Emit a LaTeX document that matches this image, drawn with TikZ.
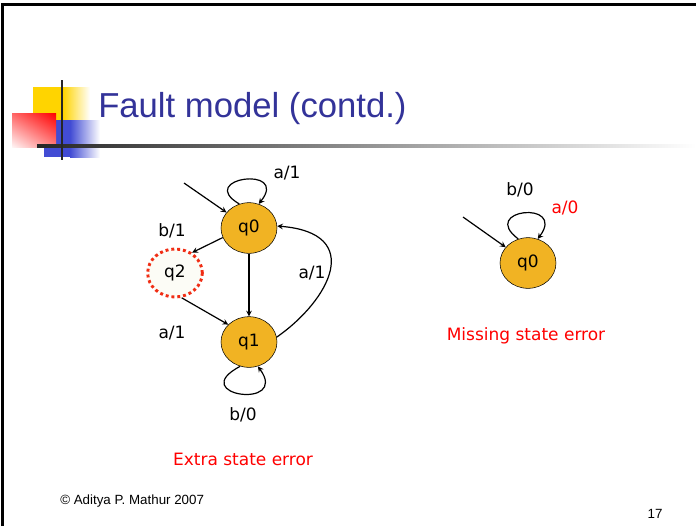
\documentclass[tikz,border=0pt]{standalone}
\usepackage{fontspec}
\setmainfont{DejaVu Sans}
\newfontfamily\arialfont{Liberation Sans}
\usetikzlibrary{shapes,arrows,positioning,calc,shadings}

\definecolor{titleblue}{RGB}{51,51,153}
\definecolor{stategold}{RGB}{241,179,35}
\definecolor{ghostfill}{RGB}{252,252,246}
\definecolor{dotred}{RGB}{240,45,20}
\definecolor{barblue}{RGB}{66,76,212}
\definecolor{baryellow}{RGB}{255,212,0}

\newcommand\labelfont{\fontsize{12.75pt}{15pt}\selectfont}

\begin{document}
\begin{tikzpicture}[
    x=0.75pt, y=-0.75pt,
    state/.style={ellipse, draw=black, fill=stategold, minimum width=42pt, minimum height=38pt, inner sep=0pt, font=\labelfont},
    ghost/.style={ellipse, draw=dotred, fill=ghostfill, line width=2.2pt, dash pattern=on 2.2pt off 2.2pt, minimum width=41pt, minimum height=36pt, inner sep=0pt, font=\labelfont},
    trans/.style={->, >=stealth, line width=0.9pt},
    lbl/.style={inner sep=0pt, font=\labelfont},
    errtext/.style={inner sep=0pt, font=\labelfont, text=red}
]
    \useasboundingbox (0,0) rectangle (696,526);

    % slide frame
    \draw[line width=1.6pt] (2.5,526) -- (2.5,4.5) -- (696,4.5);

    % title decoration
    \fill[baryellow] (33,87) rectangle (63,120);
    \shade[left color=baryellow, right color=white] (63,87) rectangle (90,120);
    \fill[barblue] (44,120) rectangle (70,157);
    \shade[left color=barblue, right color=white] (70,120) rectangle (100,157);
    \shade[upper right=red, upper left=red!60!white, lower right=red!50!white, lower left=red!4!white] (12,113) rectangle (56,147);
    \shade[left color=black!85, right color=white] (37,144.5) rectangle (696,147.5);
    \fill[black!85] (60.5,80) rectangle (63,160);

    \node[anchor=base west, inner sep=0pt, text=titleblue, font=\arialfont\fontsize{26pt}{30pt}\selectfont] (title) at (98,117) {Fault model (contd.)};

    % extra state machine
    \node[state] (q0) at (249,228) {q0};
    \node[state] (q1) at (249,342) {q1};
    \node[ghost] (q2) at (175,273) {q2};
    \coordinate (start) at (184,183);

    \draw[trans] (start) -- (q0);
    \draw[trans] (q0.112) .. controls +(-44,-26) and +(31,-39) .. (q0.68);
    \draw[trans] (q0.200) -- (q2.50);
    \draw[trans] (q2.285) -- (q1.140);
    \draw[trans] (q0) -- (q1);
    \draw[trans] (q1.10) .. controls +(53,-37) and +(88,7) .. (q0.4);
    \draw[trans] (q1.250) .. controls +(-55,29) and +(32,44) .. (q1.290);

    \node[lbl] (la) at (287,173) {a/1};
    \node[lbl] (lb) at (172,231) {b/1};
    \node[lbl] (lc) at (312,273) {a/1};
    \node[lbl] (ld) at (172,333) {a/1};
    \node[lbl] (le) at (243,415) {b/0};
    \node[errtext] (extra) at (243,459) {Extra state error};

    % missing state machine
    \node[state] (m0) at (528,263) {q0};
    \coordinate (mstart) at (463,217);

    \draw[trans] (mstart) -- (m0);
    \draw[trans] (m0.112) .. controls +(-40,-30) and +(29,-39) .. (m0.68);

    \node[lbl] (mb) at (520,190) {b/0};
    \node[errtext] (ma) at (565,208) {a/0};
    \node[errtext] (missing) at (526,336) {Missing state error};

    % footer
    \node[anchor=west, inner sep=0pt, font=\arialfont\fontsize{10pt}{12pt}\selectfont] (credit) at (60,501) {© Aditya P. Mathur 2007};
    \node[inner sep=0pt, font=\arialfont\fontsize{10pt}{12pt}\selectfont] (page) at (655,514) {17};
\end{tikzpicture}
\end{document}
